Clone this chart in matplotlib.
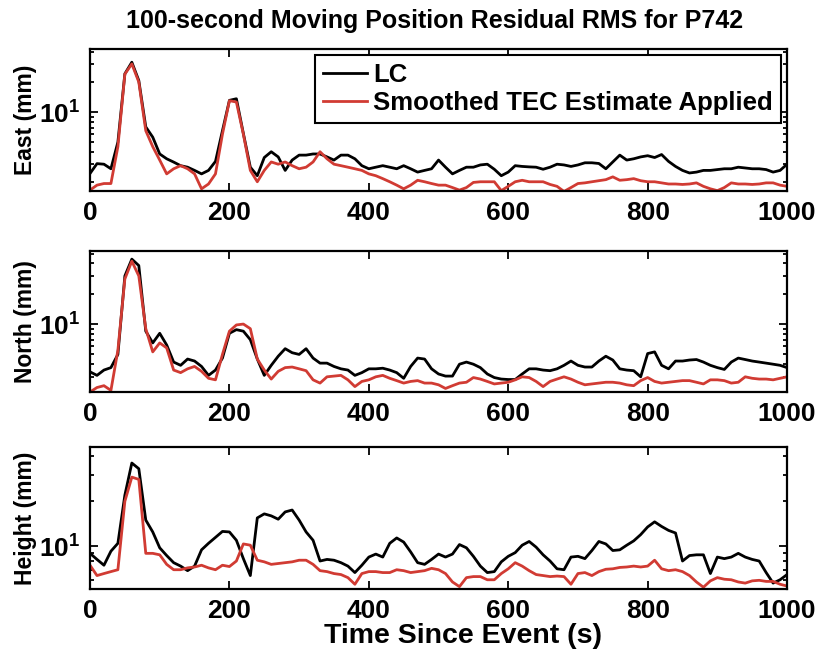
import matplotlib
matplotlib.use('Agg')
import matplotlib.pyplot as plt
import numpy as np
from matplotlib.ticker import LogLocator, NullFormatter, MultipleLocator

# time since event (s), sampled every 10 s
time = np.arange(0, 1001, 10)

# 100-s moving RMS of position residuals (mm)
east_lc = [2.42, 3.04, 3.0, 2.7, 5.0, 24.2, 31.6, 20.7, 7.1, 5.6,
           3.8, 3.4, 3.15, 2.9, 2.8, 2.6, 2.4, 2.6, 3.2, 6.5,
           13.1, 13.6, 6.1, 2.8, 2.3, 3.5, 4.0, 3.55, 2.6, 3.3,
           3.7, 3.7, 3.8, 3.8, 3.55, 3.3, 3.7, 3.7, 3.4, 2.9,
           2.7, 2.8, 2.9, 2.8, 2.7, 2.9, 2.7, 2.5, 2.6, 2.7,
           3.3, 2.8, 2.4, 2.6, 2.8, 2.8, 2.95, 3.0, 2.67, 2.3,
           2.5, 2.9, 2.85, 2.82, 2.8, 2.67, 2.8, 3.0, 2.95, 2.85,
           2.95, 3.1, 3.1, 3.05, 2.7, 3.16, 3.7, 3.3, 3.4, 3.55,
           3.65, 3.5, 3.75, 3.2, 2.85, 2.6, 2.45, 2.5, 2.6, 2.6,
           2.65, 2.7, 2.7, 2.8, 2.75, 2.7, 2.7, 2.65, 2.5, 2.6,
           3.0]
east_tec = [1.65, 1.85, 1.92, 1.92, 4.5, 24.0, 30.4, 20.0, 6.5, 4.5,
            3.3, 2.4, 2.7, 2.9, 2.7, 2.4, 1.7, 1.9, 2.4, 6.0,
            13.0, 12.6, 6.0, 2.6, 2.0, 2.6, 3.16, 3.0, 3.16, 2.9,
            2.7, 2.8, 3.16, 4.0, 3.4, 3.0, 2.9, 2.8, 2.7, 2.6,
            2.4, 2.3, 2.15, 2.0, 1.85, 1.7, 1.85, 2.07, 2.0, 1.92,
            1.85, 1.85, 1.75, 1.65, 1.75, 1.97, 2.0, 2.0, 2.0, 1.63,
            1.8, 2.0, 2.07, 2.0, 2.0, 2.0, 1.88, 1.8, 1.6, 1.75,
            1.92, 1.95, 2.0, 2.05, 2.1, 2.24, 2.07, 2.1, 2.15, 2.05,
            2.0, 2.0, 1.95, 1.9, 1.9, 1.88, 1.9, 1.95, 1.8, 1.7,
            1.63, 1.75, 1.95, 1.9, 1.9, 1.88, 1.9, 1.95, 1.95, 1.85,
            1.8]

north_lc = [3.36, 3.1, 3.5, 3.7, 5.0, 30.0, 44.0, 38.0, 8.5, 6.5,
            8.1, 6.2, 4.2, 3.9, 4.5, 4.3, 3.8, 3.1, 3.5, 4.6,
            8.1, 8.8, 8.5, 7.0, 4.5, 3.1, 3.9, 4.8, 5.7, 5.2,
            5.0, 5.7, 4.6, 4.1, 4.1, 3.8, 3.6, 3.5, 3.1, 3.3,
            3.6, 3.6, 3.65, 3.5, 3.3, 2.9, 3.8, 4.6, 4.5, 3.6,
            3.2, 3.05, 3.05, 4.0, 4.2, 4.0, 3.7, 3.2, 2.95, 2.85,
            2.82, 2.82, 3.2, 3.6, 3.6, 3.5, 3.45, 3.6, 3.9, 4.3,
            3.9, 3.75, 3.75, 4.3, 4.8, 4.4, 3.6, 3.5, 3.45, 3.0,
            5.1, 5.3, 3.9, 3.6, 4.3, 4.3, 4.4, 4.45, 4.2, 3.9,
            3.7, 3.55, 4.2, 4.6, 4.45, 4.3, 4.2, 4.1, 4.0, 3.9,
            3.7]
north_tec = [2.12, 2.35, 2.45, 2.2, 5.5, 28.0, 42.0, 30.0, 9.0, 5.3,
             6.5, 5.8, 3.5, 3.3, 3.6, 3.8, 3.4, 2.9, 2.8, 5.0,
             8.5, 9.8, 10.0, 9.0, 4.5, 3.5, 2.85, 3.4, 3.7, 3.75,
             3.6, 3.45, 2.8, 2.6, 3.0, 3.05, 3.1, 2.8, 2.4, 2.7,
             2.8, 3.0, 3.1, 2.9, 2.75, 2.6, 2.7, 2.75, 2.6, 2.6,
             2.5, 2.3, 2.45, 2.6, 2.65, 2.95, 2.85, 2.7, 2.55, 2.6,
             2.65, 2.8, 3.0, 2.95, 2.7, 2.4, 2.7, 2.85, 3.0, 2.85,
             2.65, 2.5, 2.55, 2.6, 2.65, 2.65, 2.6, 2.5, 2.45, 2.75,
             2.95, 2.7, 2.6, 2.65, 2.7, 2.75, 2.75, 2.65, 2.55, 2.8,
             2.8, 2.75, 2.6, 2.65, 3.0, 2.9, 2.85, 2.85, 2.8, 2.9,
             3.0]

height_lc = [9.0, 8.2, 7.5, 9.3, 10.5, 22.0, 36.0, 33.0, 15.0, 12.5,
             9.8, 8.7, 7.8, 7.4, 6.9, 7.4, 9.5, 10.5, 11.5, 12.6,
             12.5, 11.0, 8.3, 6.4, 15.5, 16.5, 16.0, 15.2, 17.0, 17.5,
             15.0, 12.5, 11.0, 8.0, 8.2, 8.1, 7.8, 7.4, 6.7, 7.5,
             8.5, 8.9, 8.5, 10.5, 11.4, 10.7, 9.2, 7.8, 7.6, 8.2,
             8.9, 8.5, 8.9, 10.3, 9.8, 8.6, 7.4, 6.7, 6.8, 7.9,
             8.6, 9.1, 10.2, 10.8, 9.9, 8.8, 8.0, 7.1, 7.0, 8.5,
             8.6, 8.3, 9.4, 10.8, 10.4, 9.4, 9.5, 10.2, 10.9, 12.0,
             13.5, 14.6, 13.6, 12.8, 12.3, 8.0, 8.7, 8.8, 8.8, 6.6,
             8.5, 8.3, 8.5, 9.0, 8.5, 8.2, 8.0, 6.7, 5.7, 6.0,
             6.5]
height_tec = [7.5, 6.4, 6.6, 6.8, 7.0, 20.0, 29.0, 28.0, 9.0, 9.0,
              8.8, 7.6, 7.0, 7.0, 7.2, 7.3, 7.5, 7.2, 7.0, 7.5,
              7.35, 8.0, 10.4, 10.2, 8.1, 7.9, 7.6, 7.7, 7.8, 7.9,
              8.1, 8.1, 7.6, 6.9, 6.8, 6.6, 6.5, 6.2, 5.6, 6.6,
              6.8, 6.8, 6.7, 6.7, 7.0, 6.9, 6.7, 6.8, 6.9, 7.15,
              7.0, 6.6, 5.8, 5.4, 6.2, 6.3, 6.3, 6.0, 6.0, 6.6,
              7.1, 7.8, 7.4, 6.9, 6.5, 6.4, 6.3, 6.35, 6.3, 5.6,
              6.6, 6.7, 6.4, 6.8, 7.05, 7.1, 7.25, 7.3, 7.4, 7.3,
              7.4, 8.1, 7.1, 6.9, 7.0, 6.8, 6.4, 5.8, 5.35, 5.9,
              6.2, 6.05, 6.0, 5.8, 5.7, 5.9, 5.95, 5.85, 5.85, 5.6,
              5.45]

components = ['East (mm)', 'North (mm)', 'Height (mm)']
series_lc = [east_lc, north_lc, height_lc]
series_tec = [east_tec, north_tec, height_tec]
labels = ['LC', 'Smoothed TEC Estimate Applied']

plt.rcParams['font.family'] = ['Liberation Sans', 'DejaVu Sans']
plt.rcParams['font.weight'] = 'bold'
plt.rcParams['mathtext.fontset'] = 'custom'
plt.rcParams['mathtext.rm'] = 'Liberation Sans:bold'
plt.rcParams['mathtext.default'] = 'rm'

fig = plt.figure(figsize=(8.22, 6.56), dpi=100)

# axes boxes (figure fractions) and y limits per panel
boxes = [[0.1095, 0.709, 0.848, 0.2165],
         [0.1095, 0.4024, 0.848, 0.215],
         [0.1095, 0.102, 0.848, 0.2165]]
ylims = [(1.62, 43), (2.12, 53), (5.2, 46)]
red = '#d13b33'

axes = []
for i in range(3):
    ax = fig.add_axes(boxes[i])
    ax.plot(time, series_lc[i], color='black', lw=2.0, label=labels[0])
    ax.plot(time, series_tec[i], color=red, lw=2.0, label=labels[1])
    ax.set_yscale('log')
    ax.set_xlim(0, 1000)
    ax.set_ylim(*ylims[i])
    ax.xaxis.set_major_locator(MultipleLocator(200))
    ax.yaxis.set_major_locator(LogLocator(base=10))
    ax.yaxis.set_minor_locator(LogLocator(base=10, subs=np.arange(2, 10)))
    ax.yaxis.set_minor_formatter(NullFormatter())
    ax.tick_params(which='both', direction='in', top=True, right=True,
                   width=1.3, labelsize=19)
    ax.tick_params(which='major', length=6, pad=7)
    ax.tick_params(which='minor', length=3)
    for s in ax.spines.values():
        s.set_linewidth(1.6)
    ax.set_ylabel(components[i], fontsize=16.5, fontweight='bold')
    ax.yaxis.set_label_coords(-0.076, 0.5)
    axes.append(ax)

leg = axes[0].legend(loc='upper right', fontsize=18.5, fancybox=False,
                     edgecolor='black', framealpha=1, handlelength=1.7,
                     handletextpad=0.25, borderpad=0.3, labelspacing=0.15,
                     borderaxespad=0.25)
leg.get_frame().set_linewidth(1.5)

axes[2].set_xlabel('Time Since Event (s)', fontsize=20.5, fontweight='bold')
axes[2].xaxis.set_label_coords(0.535, -0.24)
fig.text(435 / 822, 1 - 21 / 656,
         '100-second Moving Position Residual RMS for P742',
         ha='center', va='center', fontsize=18, fontweight='bold')

fig.savefig('out.png', dpi=100)
